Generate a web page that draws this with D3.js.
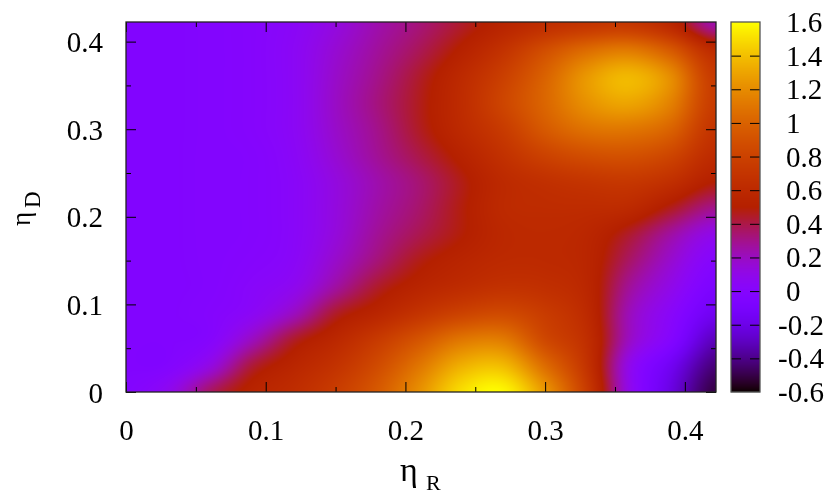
<!DOCTYPE html>
<html>
<head>
<meta charset="utf-8">
<script src="https://cdn.jsdelivr.net/npm/d3@7/dist/d3.min.js"></script>
<style>
html,body{margin:0;padding:0;background:#fff;}
#wrap{position:relative;width:830px;height:500px;overflow:hidden;}
canvas,svg{position:absolute;left:0;top:0;}
text{font-family:"Liberation Serif","Times New Roman",serif;fill:#000;}
</style>
</head>
<body>
<div id="wrap"><canvas id="heat" width="830" height="500"></canvas><svg id="chart" width="830" height="500"></svg></div>
<script>
const etaR = [0,.03,.06,.09,.12,.15,.18,.21,.24,.27,.30,.33,.36,.39,.42];
const etaD = [0,.03,.06,.09,.12,.15,.18,.21,.24,.27,.30,.33,.36,.39,.42];
const zValues = [
[-.02,.08,.36,.54,.63,.76,.95,1.22,1.50,1.58,1.25,.75,.10,-.22,-.50],
[-.03,-.02,.12,.42,.56,.68,.86,1.10,1.34,1.38,1.05,.68,.10,-.16,-.42],
[-.03,-.03,.00,.20,.44,.58,.74,.92,1.10,1.12,.84,.64,.20,-.02,-.30],
[-.03,-.03,-.01,.05,.20,.44,.56,.69,.80,.85,.75,.60,.22,.03,-.16],
[-.03,-.03,-.02,.02,.08,.26,.44,.55,.62,.67,.65,.57,.28,.10,-.07],
[-.03,-.03,-.02,.00,.04,.18,.33,.47,.55,.60,.60,.56,.36,.17,.00],
[-.03,-.03,-.02,-.01,.03,.14,.28,.39,.49,.58,.60,.57,.44,.26,.10],
[-.03,-.03,-.02,-.01,.03,.13,.25,.35,.48,.60,.62,.62,.60,.46,.30],
[-.03,-.03,-.02,-.01,.03,.13,.24,.34,.47,.60,.66,.70,.72,.65,.50],
[-.03,-.03,-.02,-.01,.04,.16,.28,.40,.53,.67,.80,.88,.90,.82,.62],
[-.03,-.03,-.02,.00,.05,.18,.30,.45,.60,.75,.95,1.08,1.10,1.00,.70],
[-.03,-.03,-.02,.00,.05,.19,.32,.46,.62,.82,1.02,1.22,1.30,1.15,.76],
[-.03,-.03,-.02,.00,.05,.18,.30,.44,.60,.78,1.00,1.25,1.37,1.20,.75],
[-.03,-.03,-.02,.00,.05,.16,.27,.38,.52,.68,.88,1.05,1.12,.95,.62],
[-.03,-.03,-.02,.00,.04,.13,.24,.33,.44,.55,.64,.70,.72,.58,.25]
];
const majorTicks = [0,.1,.2,.3,.4];
const minorTicks = [.05,.15,.25,.35];
const cbTicks = [-.6,-.4,-.2,0,.2,.4,.6,.8,1,1.2,1.4,1.6];

const M = {l:126,r:716,t:22,b:392};
const CB = {l:731,r:760};
const x = d3.scaleLinear().domain([0,.4223]).range([M.l,M.r]);
const y = d3.scaleLinear().domain([0,.4224]).range([M.b,M.t]);
const cbY = d3.scaleLinear().domain([-.6,1.6]).range([M.b,M.t]);
const norm = d3.scaleLinear().domain([-.6,1.6]).range([0,1]).clamp(true);

function palette(v){
  const g = norm(v);
  const r = Math.sqrt(g), gg = g*g*g, b = Math.max(0,Math.sin(2*Math.PI*g));
  return [Math.round(r*255),Math.round(gg*255),Math.round(b*255)];
}
function cr(p0,p1,p2,p3,t){
  return .5*((2*p1)+(-p0+p2)*t+(2*p0-5*p1+4*p2-p3)*t*t+(-p0+3*p1-3*p2+p3)*t*t*t);
}
const xi = d3.scaleLinear().domain(etaR).range(etaR.map((d,i)=>i)).clamp(true);
const yi = d3.scaleLinear().domain(etaD).range(etaD.map((d,i)=>i)).clamp(true);
function at(r,c){
  r=Math.max(0,Math.min(zValues.length-1,r));
  c=Math.max(0,Math.min(zValues[0].length-1,c));
  return zValues[r][c];
}
function sample(xv,yv){
  const fx=xi(xv), fy=yi(yv);
  const c=Math.min(Math.floor(fx),etaR.length-2), r=Math.min(Math.floor(fy),etaD.length-2);
  const tx=fx-c, ty=fy-r, rows=[];
  for(let k=-1;k<=2;k++) rows.push(cr(at(r+k,c-1),at(r+k,c),at(r+k,c+1),at(r+k,c+2),tx));
  return cr(rows[0],rows[1],rows[2],rows[3],ty);
}

const ctx = document.getElementById('heat').getContext('2d');
const W=M.r-M.l, H=M.b-M.t;
const img = ctx.createImageData(W,H);
for(let j=0;j<H;j++){
  const yv=y.invert(M.t+j+.5);
  for(let i=0;i<W;i++){
    const xv=x.invert(M.l+i+.5);
    const c=palette(sample(xv,yv)), o=(j*W+i)*4;
    img.data[o]=c[0];img.data[o+1]=c[1];img.data[o+2]=c[2];img.data[o+3]=255;
  }
}
ctx.putImageData(img,M.l,M.t);

const svg = d3.select('#chart');
svg.append('g').selectAll('rect').data(d3.range(M.t,M.b,1)).join('rect')
  .attr('x',CB.l).attr('width',CB.r-CB.l).attr('y',d=>d).attr('height',1.2)
  .attr('fill',d=>{const c=palette(cbY.invert(d+.5));return `rgb(${c[0]},${c[1]},${c[2]})`;});

function styleAxis(g){g.select('.domain').remove();g.selectAll('line').attr('stroke','#000').attr('stroke-width',1);}
const fmt = d=>String(+d.toFixed(1));
const FS=29;

function ticks(axis,tr,vals,len,lab){
  return svg.append('g').attr('transform',tr).call(axis.tickValues(vals).tickSize(-len).tickFormat(lab?fmt:'')).call(styleAxis);
}
ticks(d3.axisBottom(x),`translate(0,${M.b})`,majorTicks,10,true)
  .call(g=>g.selectAll('text').attr('font-size',FS).attr('dy',0).attr('y',48));
ticks(d3.axisBottom(x),`translate(0,${M.b})`,minorTicks,5,false);
ticks(d3.axisTop(x),`translate(0,${M.t})`,majorTicks,10,false);
ticks(d3.axisTop(x),`translate(0,${M.t})`,minorTicks,5,false);
ticks(d3.axisLeft(y),`translate(${M.l},0)`,majorTicks,10,true)
  .call(g=>g.selectAll('text').attr('font-size',FS).attr('dy',0).attr('x',-23).attr('y',10));
ticks(d3.axisLeft(y),`translate(${M.l},0)`,minorTicks,5,false);
ticks(d3.axisRight(y),`translate(${M.r},0)`,majorTicks,10,false);
ticks(d3.axisRight(y),`translate(${M.r},0)`,minorTicks,5,false);

const inner=cbTicks.slice(1,-1);
svg.append('g').attr('transform',`translate(${CB.l},0)`)
  .call(d3.axisLeft(cbY).tickValues(inner).tickSize(-10).tickFormat('')).call(styleAxis);
svg.append('g').attr('transform',`translate(${CB.r},0)`)
  .call(d3.axisRight(cbY).tickValues(inner).tickSize(-10).tickFormat('')).call(styleAxis);
svg.append('g').selectAll('text').data(cbTicks).join('text')
  .attr('x',d=>d<0?778:786).attr('y',d=>cbY(d)+10).attr('font-size',FS)
  .text(d=>String(+d.toFixed(1)));

svg.append('rect').attr('x',M.l).attr('y',M.t).attr('width',W).attr('height',H)
  .attr('fill','none').attr('stroke','#222').attr('stroke-width',1.3);
svg.append('rect').attr('x',CB.l).attr('y',M.t).attr('width',CB.r-CB.l).attr('height',H)
  .attr('fill','none').attr('stroke','#555').attr('stroke-width',1.3);

svg.append('text').attr('x',400).attr('y',481).attr('font-size',34).text('η');
svg.append('text').attr('x',426).attr('y',490).attr('font-size',22).text('R');
svg.append('text').attr('transform','translate(30,226) rotate(-90)').attr('font-size',27).text('η');
svg.append('text').attr('transform','translate(40,208) rotate(-90)').attr('font-size',23).text('D');
</script>
</body>
</html>
